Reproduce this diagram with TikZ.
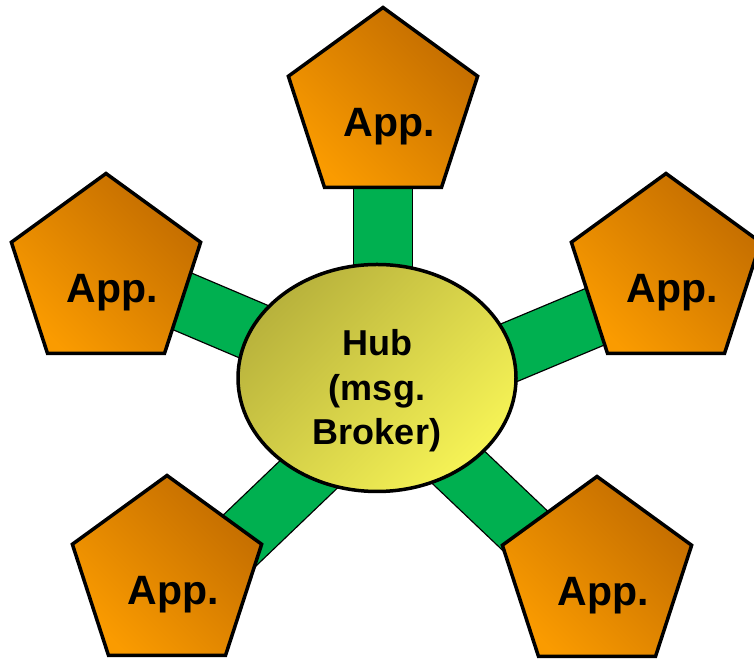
\documentclass[tikz,border=0pt]{standalone}
\usepackage{fontspec}
\setmainfont{Liberation Sans}
\usetikzlibrary{shapes.geometric}
\usetikzlibrary{backgrounds}

\definecolor{appdark}{RGB}{194,108,0}
\definecolor{applight}{RGB}{250,155,0}
\definecolor{hubdark}{RGB}{184,178,60}
\definecolor{hublight}{RGB}{246,243,86}
\definecolor{bargreen}{RGB}{0,176,80}

\tikzset{
    app/.style={regular polygon, regular polygon sides=5, minimum size=199pt, inner sep=0pt,
        draw, line width=3.5pt, top color=appdark, bottom color=applight, shading angle=-45},
    apptext/.style={anchor=base, font=\bfseries\fontsize{41}{49}\selectfont},
    hub/.style={ellipse, minimum width=278pt, minimum height=227pt, draw, line width=3.5pt,
        top color=hubdark, bottom color=hublight, shading angle=45},
    bar/.style={line width=1.3pt, double=bargreen, double distance=58pt},
}

\begin{document}
\begin{tikzpicture}[x=1pt, y=1pt]
    \useasboundingbox (0,0) rectangle (754,660);

    \node[hub] (hub) at (377,282) {};
    \node[align=center, font=\bfseries\fontsize{36}{44.5}\selectfont] (hubtext)
        at ([yshift=-13pt]hub.center) {Hub\\(msg.\\Broker)};

    % the five apps round the hub
    \foreach \n/\x/\y in {1/383/553, 2/106/387, 3/666/387, 4/167/85, 5/597/84} {
        \node[app] (app\n) at (\x,\y) {};
        \node[apptext] (text\n) at ([shift={(6.5,-30)}]app\n.center) {App.};
    }

    % bars, behind hub and apps
    \begin{scope}[on background layer]
        \draw[bar] (app1.center) -- (app1.center |- hub.center);
        \draw[bar] ([yshift=4pt]app2.center) -- ([yshift=-6pt]hub.center);
        \draw[bar] ([yshift=-14pt]app3.center) -- ([yshift=-30pt]hub.center);
        \draw[bar] ([yshift=-35pt]app4.center) -- ([yshift=-31pt]hub.center);
        \draw[bar] ([yshift=-23pt]app5.center) -- ([yshift=-12pt]hub.center);
    \end{scope}
\end{tikzpicture}
\end{document}
